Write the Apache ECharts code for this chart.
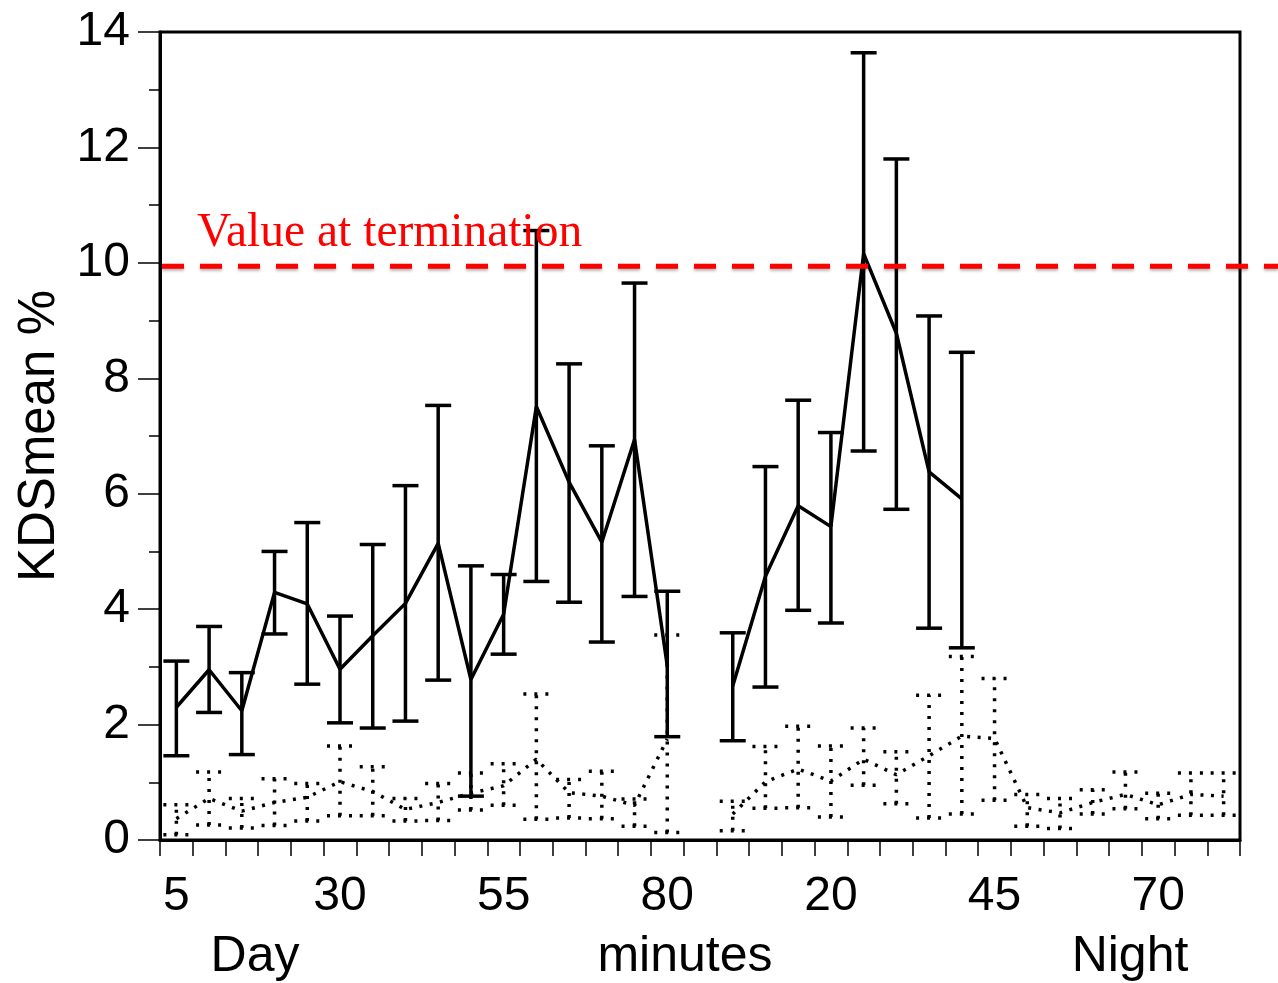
<!DOCTYPE html>
<html>
<head>
<meta charset="utf-8">
<script src="https://cdn.jsdelivr.net/npm/echarts@6/dist/echarts.min.js"></script>
<style>
  html, body { margin: 0; padding: 0; background: #fff; }
  #chart { width: 1278px; height: 983px; }
</style>
</head>
<body>
<div id="chart"></div>
<script>
// Time points (minutes) for the day and night sessions; an empty slot separates them.
const dayMinutes   = ['5','10','15','20','25','30','35','40','45','50','55','60','65','70','75','80'];
const nightMinutes = ['5','10','15','20','25','30','35','40','45','50','55','60','65','70','75','80'];
const categories = [...dayMinutes, '', ...nightMinutes];

// Solid series: mean KDS % with lower / upper error bounds
const solidMean = [2.30, 2.95, 2.24, 4.29, 4.09, 2.96, 3.54, 4.10, 5.14, 2.78, 3.91, 7.51, 6.20, 5.16, 6.94, 3.02,
                   null,
                   2.67, 4.57, 5.79, 5.43, 10.16, 8.78, 6.38, 5.91, null, null, null, null, null, null, null, null];
const solidLow  = [1.46, 2.21, 1.48, 3.57, 2.70, 2.03, 1.94, 2.06, 2.77, 0.76, 3.22, 4.48, 4.12, 3.43, 4.22, 1.79,
                   null,
                   1.72, 2.65, 3.98, 3.76, 6.74, 5.73, 3.67, 3.33, null, null, null, null, null, null, null, null];
const solidHigh = [3.10, 3.70, 2.90, 5.00, 5.50, 3.88, 5.12, 6.14, 7.53, 4.75, 4.60, 10.56, 8.25, 6.83, 9.65, 4.31,
                   null,
                   3.59, 6.47, 7.62, 7.06, 13.64, 11.80, 9.08, 8.45, null, null, null, null, null, null, null, null];

// Dotted series: mean KDS % with lower / upper error bounds
const dottedMean = [0.37, 0.72, 0.50, 0.65, 0.74, 1.01, 0.84, 0.53, 0.65, 0.81, 0.94, 1.40, 0.82, 0.76, 0.60, 1.75,
                    null,
                    0.45, 1.01, 1.23, 1.02, 1.40, 1.13, 1.46, 1.80, 1.76, 0.56, 0.47, 0.65, 0.79, 0.61, 0.79, 0.76];
const dottedLow  = [0.09, 0.26, 0.21, 0.25, 0.33, 0.42, 0.42, 0.33, 0.34, 0.52, 0.60, 0.36, 0.38, 0.37, 0.24, 0.13,
                    null,
                    0.16, 0.55, 0.56, 0.40, 0.95, 0.63, 0.38, 0.45, 0.69, 0.24, 0.20, 0.45, 0.54, 0.37, 0.43, 0.43];
const dottedHigh = [0.61, 1.18, 0.72, 1.06, 0.98, 1.63, 1.27, 0.72, 0.98, 1.16, 1.32, 2.53, 1.05, 1.19, 0.71, 3.55,
                    null,
                    0.67, 1.62, 1.97, 1.63, 1.94, 1.53, 2.51, 3.18, 2.80, 0.79, 0.72, 0.87, 1.18, 0.81, 1.16, 1.16];

// Reference level
const terminationValue = 9.94;
const terminationLabel = 'Value at termination';

// Text under the time axis
const sessionLabels = ['Day', 'minutes', 'Night'];

const sansFont = '"Liberation Sans", Arial, Helvetica, sans-serif';

function boundsData(low, high) {
  const out = [];
  low.forEach(function (lo, i) {
    if (lo != null && high[i] != null) out.push([i, lo, high[i]]);
  });
  return out;
}

function errorBars(dash) {
  return function (params, api) {
    const i = api.value(0);
    const pLo = api.coord([i, api.value(1)]);
    const pHi = api.coord([i, api.value(2)]);
    const half = 13;
    const style = { stroke: '#000', lineWidth: 3.5, fill: null, lineDash: dash || null, lineCap: 'butt' };
    return {
      type: 'group',
      children: [
        { type: 'line', shape: { x1: pLo[0], y1: pLo[1], x2: pHi[0], y2: pHi[1] }, style: style },
        { type: 'line', shape: { x1: pHi[0] - half, y1: pHi[1], x2: pHi[0] + half, y2: pHi[1] }, style: style },
        { type: 'line', shape: { x1: pLo[0] - half, y1: pLo[1], x2: pLo[0] + half, y2: pLo[1] }, style: style }
      ]
    };
  };
}

const chart = echarts.init(document.getElementById('chart'), null, { renderer: 'canvas' });

chart.setOption({
  animation: false,
  backgroundColor: '#fff',
  grid: {
    left: 160, right: 38, top: 32, bottom: 143,
    show: true, borderColor: '#000', borderWidth: 3, backgroundColor: 'transparent'
  },
  xAxis: {
    type: 'category',
    data: categories,
    boundaryGap: true,
    axisLine: { lineStyle: { color: '#000', width: 3 } },
    axisTick: { show: true, interval: 0, alignWithLabel: false, length: 16, lineStyle: { color: '#000', width: 1.5 } },
    axisLabel: { interval: 4, color: '#000', fontSize: 48, fontFamily: sansFont, margin: 33 },
    splitLine: { show: false }
  },
  yAxis: {
    type: 'value',
    min: 0, max: 14, interval: 2,
    name: 'KDSmean %',
    nameLocation: 'middle',
    nameRotate: 90,
    nameGap: 94,
    nameTextStyle: { color: '#000', fontSize: 51, fontFamily: sansFont },
    axisLine: { show: true, lineStyle: { color: '#000', width: 3 } },
    axisTick: { show: true, length: 22, lineStyle: { color: '#000', width: 1.5 } },
    minorTick: { show: true, splitNumber: 2, length: 11, lineStyle: { color: '#000', width: 1.5 } },
    axisLabel: { color: '#000', fontSize: 48, fontFamily: sansFont, margin: 30 },
    splitLine: { show: false }
  },
  series: [
    {
      name: 'dotted bars',
      type: 'custom',
      renderItem: errorBars([3, 8]),
      data: boundsData(dottedLow, dottedHigh),
      encode: { x: 0, y: [1, 2] },
      z: 2
    },
    {
      name: 'dotted mean',
      type: 'line',
      data: dottedMean,
      connectNulls: false,
      symbol: 'none',
      lineStyle: { color: '#000', width: 3.5, type: [3, 7.5], cap: 'butt' },
      z: 2
    },
    {
      name: 'solid bars',
      type: 'custom',
      renderItem: errorBars(null),
      data: boundsData(solidLow, solidHigh),
      encode: { x: 0, y: [1, 2] },
      z: 3
    },
    {
      name: 'solid mean',
      type: 'line',
      data: solidMean,
      connectNulls: false,
      symbol: 'none',
      lineStyle: { color: '#000', width: 3.5 },
      z: 3
    }
  ]
});

// Termination level: dashed red line running from the y axis to the page edge, with its label
const lineY = chart.convertToPixel({ yAxisIndex: 0 }, terminationValue);
const step = chart.convertToPixel({ xAxisIndex: 0 }, 1) - chart.convertToPixel({ xAxisIndex: 0 }, 0);
const gridLeft = chart.convertToPixel({ xAxisIndex: 0 }, 0) - step / 2;

function sessionText(label, x) {
  return {
    type: 'text', x: x, y: 957,
    style: { text: label, fill: '#000', font: '50px ' + sansFont, align: 'center', verticalAlign: 'middle' }
  };
}

chart.setOption({
  graphic: [
    {
      type: 'line',
      z: 10,
      shape: { x1: gridLeft + 2, y1: lineY, x2: 1278, y2: lineY },
      style: {
        stroke: '#ff0000', lineWidth: 5, lineDash: [22, 16],
        shadowColor: 'rgba(0,0,0,0.3)', shadowBlur: 3, shadowOffsetY: 2
      }
    },
    {
      type: 'text',
      z: 10,
      x: 197,
      y: lineY - 9,
      style: {
        text: terminationLabel,
        fill: '#ff0000',
        font: '47.5px "Liberation Serif", "Times New Roman", serif',
        align: 'left',
        verticalAlign: 'bottom'
      }
    },
    sessionText(sessionLabels[0], 255),
    sessionText(sessionLabels[1], 685),
    sessionText(sessionLabels[2], 1130)
  ]
});
</script>
</body>
</html>
